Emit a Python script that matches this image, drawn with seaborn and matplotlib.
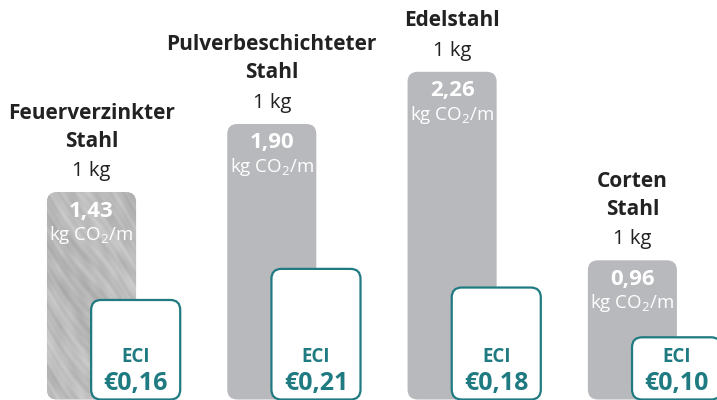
import numpy as np
import matplotlib
matplotlib.use("Agg")
import matplotlib.pyplot as plt
import seaborn as sns
import pandas as pd
from matplotlib.patches import FancyBboxPatch

# ---------------- data ----------------
categories = ["Feuerverzinkter\nStahl", "Pulverbeschichteter\nStahl", "Edelstahl", "Corten\nStahl"]
amount_labels = ["1 kg", "1 kg", "1 kg", "1 kg"]
co2_values = [1.43, 1.90, 2.26, 0.96]
co2_labels = ["1,43", "1,90", "2,26", "0,96"]
eci_values = [0.16, 0.21, 0.18, 0.10]
eci_labels = ["€0,16", "€0,21", "€0,18", "€0,10"]
eci_title = "ECI"
unit_label = "kg CO$_2$/m"

# ---------------- style ----------------
sns.set_theme(style="white")
plt.rcParams['font.family'] = ['Open Sans', 'DejaVu Sans']
plt.rcParams['mathtext.fontset'] = 'custom'
plt.rcParams['mathtext.rm'] = 'Open Sans'
plt.rcParams['mathtext.it'] = 'Open Sans'
plt.rcParams['mathtext.bf'] = 'Open Sans:bold'

GRAY = "#b8b9bc"
TEAL = "#1f7a81"
DARK = "#222222"

W_PX, H_PX = 717, 400
fig = plt.figure(figsize=(W_PX / 100, H_PX / 100), dpi=100)
ax = fig.add_axes([0, 0, 1, 1])

PX_X = 180.3      # pixels per category step
X0_PX = 91.5      # pixel of first category
PX_Y = 145.0      # pixels per kg CO2
PX_Y2 = 622.0     # pixels per € ECI
BASE_PX = 0.5     # baseline offset from bottom

BAR_W = 0.494
ECI_OFF = 0.245

df = pd.DataFrame({"cat": categories, "co2": co2_values})
sns.barplot(data=df, x="cat", y="co2", order=categories, color=GRAY,
            width=BAR_W, ax=ax, saturation=1)

ax.set_xlim(-X0_PX / PX_X, (W_PX - X0_PX) / PX_X)
ax.set_ylim(-BASE_PX / PX_Y, (H_PX - BASE_PX) / PX_Y)
ax.axis("off")

ax2 = ax.twinx()
ax2.set_ylim(-BASE_PX / PX_Y2, (H_PX - BASE_PX) / PX_Y2)
ax2.axis("off")

r = 10 / PX_X
aspect1 = PX_X / PX_Y
aspect2 = PX_X / PX_Y2

bars = list(ax.patches)
for i, p in enumerate(bars):
    x, w, h = p.get_x(), p.get_width(), p.get_height()
    p.remove()
    patch = FancyBboxPatch((x, 0), w, h,
                           boxstyle=f"round,pad=0,rounding_size={r}",
                           mutation_aspect=aspect1,
                           facecolor=GRAY, edgecolor="none", zorder=2)
    ax.add_patch(patch)
    if i == 0:
        # galvanised-steel look: soft, irregular diagonal streak texture
        wp, hp = int(w * PX_X), int(h * PX_Y)
        u, v = np.meshgrid(np.arange(wp), np.arange(hp))
        p_ = 1.35 * u - v
        tex = (0.73
               + 0.022 * np.sin(p_ / 6.3 + 2.0 * np.sin(v / 23.0))
               + 0.016 * np.sin(p_ / 2.7 + v / 13.0)
               + 0.016 * np.sin(u / 7.0 + v / 11.0) * np.sin(v / 19.0 - u / 5.0)
               + 0.014 * np.sin(p_ / 1.6 + 3 * np.sin(u / 13.0))
               + 0.02 * np.sin(u / 17.0 - v / 29.0))
        tex = np.clip(tex, 0, 1)
        im = ax.imshow(tex, cmap="gray", vmin=0, vmax=1, extent=[x, x + w, 0, h],
                       origin="upper", aspect="auto", zorder=2.5, interpolation="bilinear")
        im.set_clip_path(patch)
    xc = x + w / 2
    ax.annotate(co2_labels[i], xy=(xc, h), xytext=(0, -19), textcoords="offset pixels",
                ha="center", va="center", color="white", fontsize=16, fontweight="bold", zorder=5)
    ax.annotate(unit_label, xy=(xc, h), xytext=(0, -43), textcoords="offset pixels",
                ha="center", va="center", color="white", fontsize=13.5, zorder=5)
    ax.annotate(amount_labels[i], xy=(xc, h), xytext=(0, 21), textcoords="offset pixels",
                ha="center", va="center", color=DARK, fontsize=14.5, zorder=5)
    lines = categories[i].split("\n")
    for k, line in enumerate(reversed(lines)):
        ax.annotate(line, xy=(xc, h), xytext=(0, 51 + 28 * k), textcoords="offset pixels",
                    ha="center", va="center", color=DARK, fontsize=15, fontweight="bold", zorder=5)

    # ECI box
    ex = i + ECI_OFF - BAR_W / 2
    eh = eci_values[i]
    box = FancyBboxPatch((ex, 0), BAR_W, eh,
                         boxstyle=f"round,pad=0,rounding_size={r}",
                         mutation_aspect=aspect2,
                         facecolor="white", edgecolor=TEAL, linewidth=1.6, zorder=3)
    ax2.add_patch(box)
    exc = ex + BAR_W / 2
    ax2.annotate(eci_title, xy=(exc, 0), xytext=(0, 42), textcoords="offset pixels",
                 ha="center", va="center", color=TEAL, fontsize=13.5, fontweight="bold", zorder=5)
    ax2.annotate(eci_labels[i], xy=(exc, 0), xytext=(0, 16), textcoords="offset pixels",
                 ha="center", va="center", color=TEAL, fontsize=18, fontweight="bold", zorder=5)

fig.savefig("out.png", dpi=100)
